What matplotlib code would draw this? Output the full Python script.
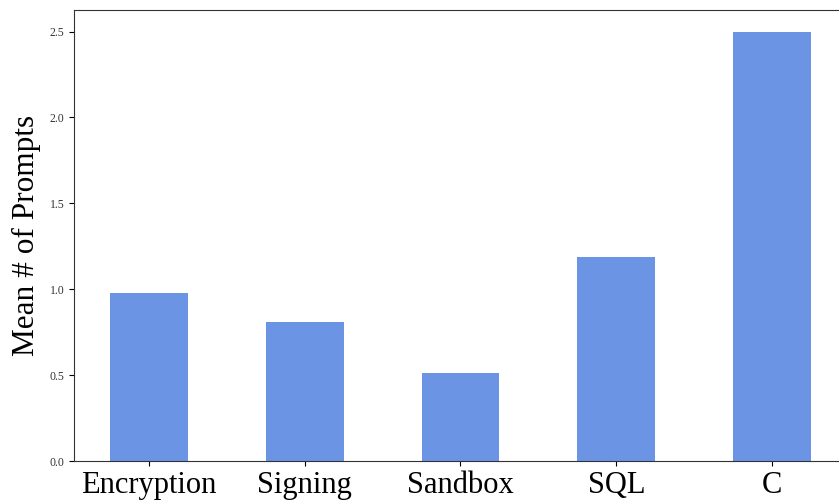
import matplotlib
matplotlib.use("Agg")
import matplotlib.pyplot as plt

# categorias y valores
categorias = ["Encryption", "Signing", "Sandbox", "SQL", "C"]
valores = [0.98, 0.81, 0.51, 1.19, 2.50]

plt.rcParams["font.family"] = ["Liberation Serif", "DejaVu Serif"]

fig = plt.figure(figsize=(8.39, 5.01), dpi=100)
# el grafico original esta recortado a la derecha y abajo
ax = fig.add_axes([0.0882, 0.0798, 0.925, 0.900])

x = list(range(len(categorias)))
ax.bar(x, valores, width=0.5, color="#6b95e4")

ax.set_xlim(-0.48, 4.5)
ax.set_ylim(0, 2.625)
ax.set_xticks(x)
ax.set_xticklabels(categorias, fontsize=22)
ax.set_yticks([0.0, 0.5, 1.0, 1.5, 2.0, 2.5])
ax.set_yticklabels(["0.0", "0.5", "1.0", "1.5", "2.0", "2.5"], fontsize=8.5, color="#333333")
ax.set_ylabel("Mean # of Prompts", fontsize=22.5, labelpad=6)

for s in ax.spines.values():
    s.set_color("#333333")

fig.savefig("out.png", dpi=100)
